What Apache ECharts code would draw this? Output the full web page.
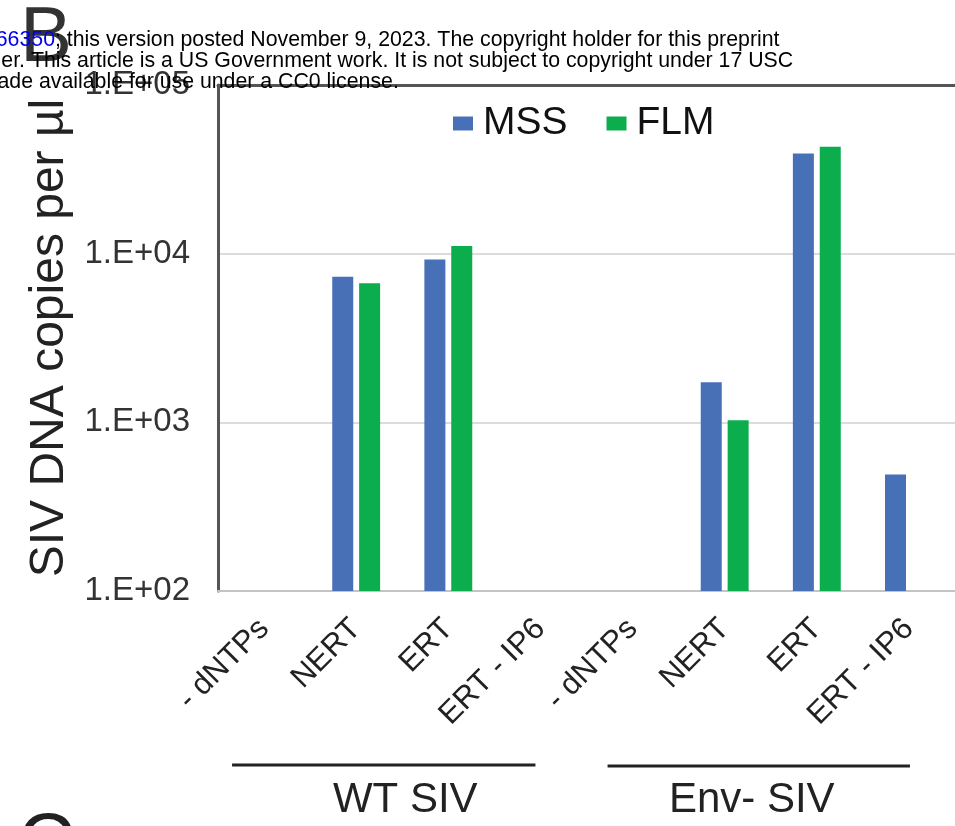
<!DOCTYPE html>
<html>
<head>
<meta charset="utf-8">
<script src="https://cdn.jsdelivr.net/npm/echarts@6/dist/echarts.min.js"></script>
<style>
html,body{margin:0;padding:0;background:#fff;}
#main{width:955px;height:826px;}
</style>
</head>
<body>
<div id="main"></div>
<script>
// ---- data ----
var categories = ['- dNTPs', 'NERT', 'ERT', 'ERT - IP6', '- dNTPs', 'NERT', 'ERT', 'ERT - IP6'];
var seriesNames = ['MSS', 'FLM'];
var mssValues = [null, 7300, 9250, null, null, 1730, 39300, 490];
var flmValues = [null, 6670, 11100, null, null, 1030, 43000, null];
var yTickLabels = ['1.E+02', '1.E+03', '1.E+04', '1.E+05'];
var groupNames = ['WT SIV', 'Env- SIV'];
var yAxisTitle = 'SIV DNA copies per µl';

var FONT = '"Liberation Sans", Arial, Helvetica, sans-serif';
var chart = echarts.init(document.getElementById('main'), null, {renderer: 'canvas'});

var option = {
  backgroundColor: '#ffffff',
  animation: false,
  textStyle: {fontFamily: FONT},
  grid: {left: 218, top: 85, width: 744, height: 506, containLabel: false},
  legend: {
    left: 453, top: 104, padding: 0,
    itemWidth: 20, itemHeight: 14, itemGap: 39,
    textStyle: {fontSize: 39, color: '#111', fontFamily: FONT, padding: [0, 0, 0, 5]},
    data: seriesNames,
    icon: 'rect'
  },
  xAxis: [{
    type: 'category',
    data: categories,
    position: 'bottom',
    axisLine: {show: true, lineStyle: {color: '#c4c4c4', width: 2}},
    axisTick: {show: false},
    axisLabel: {rotate: 45, margin: 33, fontSize: 31, color: '#222', fontFamily: FONT, interval: 0},
    splitLine: {show: false}
  }, {
    type: 'category',
    data: categories,
    position: 'top',
    axisLine: {show: true, lineStyle: {color: '#555', width: 3}},
    axisTick: {show: false},
    axisLabel: {show: false},
    splitLine: {show: false}
  }],
  yAxis: {
    type: 'log',
    logBase: 10,
    min: 100,
    max: 100000,
    name: yAxisTitle,
    nameLocation: 'middle',
    nameRotate: 90,
    nameGap: 130,
    nameTextStyle: {fontSize: 48, color: '#222', fontFamily: FONT},
    axisLine: {show: true, lineStyle: {color: '#555', width: 3}},
    axisTick: {show: false},
    axisLabel: {
      margin: 28, fontSize: 33, color: '#333', fontFamily: FONT,
      formatter: function (v) {
        var e = Math.round(Math.log10(v));
        return yTickLabels[e - 2] || '';
      }
    },
    splitLine: {show: true, lineStyle: {color: '#dcdcdc', width: 2}}
  },
  series: [{
    name: seriesNames[0], type: 'bar', data: mssValues,
    barWidth: 21, barGap: '28%',
    itemStyle: {color: '#4870b7'}
  }, {
    name: seriesNames[1], type: 'bar', data: flmValues,
    barWidth: 21, barGap: '28%',
    itemStyle: {color: '#0bad4d'}
  }]
};
chart.setOption(option);

// group annotations placed relative to the category axis
function px(i) { return chart.convertToPixel({xAxisIndex: 0}, i); }
var c0 = px(0), c3 = px(3), c4 = px(4), c7 = px(7);
var c12 = (px(1) + px(2)) / 2, c56 = (px(5) + px(6)) / 2;

var hfont = '21.3px ' + FONT;
chart.setOption({
  graphic: [
    {type: 'text', z: 50, left: 20, top: 0, style: {text: 'B', fill: '#333', font: '78px ' + FONT}},
    {type: 'text', z: 50, left: 18, top: 806, style: {text: 'C', fill: '#222', font: '78px ' + FONT}},
    {type: 'text', z: 100, x: 55, y: 40, style: {text: '566350', fill: '#0000ee', font: hfont, textAlign: 'right', textVerticalAlign: 'middle'}},
    {type: 'text', z: 100, x: 55, y: 40, style: {text: '; this version posted November 9, 2023. The copyright holder for this preprint', fill: '#000', font: hfont, textAlign: 'left', textVerticalAlign: 'middle'}},
    {type: 'text', z: 100, x: 25, y: 61, style: {text: 'funder.', fill: '#000', font: hfont, textAlign: 'right', textVerticalAlign: 'middle'}},
    {type: 'text', z: 100, x: 25, y: 61, style: {text: ' This article is a US Government work. It is not subject to copyright under 17 USC', fill: '#000', font: hfont, textAlign: 'left', textVerticalAlign: 'middle'}},
    {type: 'text', z: 100, x: 33, y: 82, style: {text: 'made', fill: '#000', font: hfont, textAlign: 'right', textVerticalAlign: 'middle'}},
    {type: 'text', z: 100, x: 33, y: 82, style: {text: ' available for use under a CC0 license.', fill: '#000', font: hfont, textAlign: 'left', textVerticalAlign: 'middle'}},
    {type: 'line', z: 60, shape: {x1: c0 - 32, y1: 765, x2: c3 - 5, y2: 765}, style: {stroke: '#222', lineWidth: 3}},
    {type: 'line', z: 60, shape: {x1: c4 - 25, y1: 766, x2: c7 + 1, y2: 766}, style: {stroke: '#222', lineWidth: 3}},
    {type: 'text', z: 60, x: c12 + 3, y: 800, style: {text: groupNames[0], fill: '#222', font: '42px ' + FONT, textAlign: 'center', textVerticalAlign: 'middle'}},
    {type: 'text', z: 60, x: c56 - 19, y: 800, style: {text: groupNames[1], fill: '#222', font: '42px ' + FONT, textAlign: 'center', textVerticalAlign: 'middle'}}
  ]
});
</script>
</body>
</html>
